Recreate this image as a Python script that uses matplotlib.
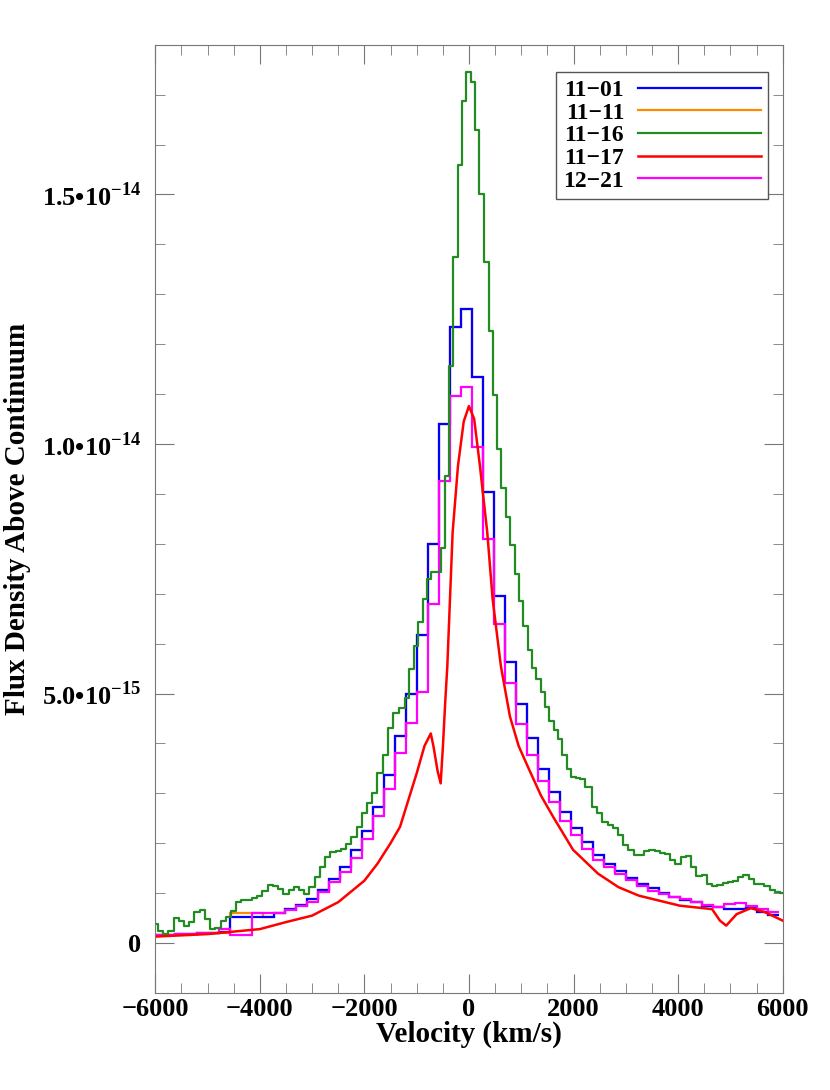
import numpy as np
import matplotlib
matplotlib.use("Agg")
import matplotlib.pyplot as plt
from matplotlib.ticker import MultipleLocator

plt.rcParams['font.family'] = 'Liberation Serif'
plt.rcParams['font.weight'] = 'bold'
plt.rcParams['mathtext.fontset'] = 'custom'
plt.rcParams['mathtext.rm'] = 'Liberation Serif:bold'
plt.rcParams['mathtext.bf'] = 'Liberation Serif:bold'

SCALE = 1e-15
# coarse bins (blue, orange, magenta): edges every 210 km/s
coarse_edges = np.arange(-6245, 6300, 210)[:59]
blue = [0.15,0.16,0.17,0.18,0.19,0.2,0.21,0.22,0.53,0.53,0.53,0.53,0.6,0.68,0.77,0.89,1.07,1.29,1.52,1.86,
        2.25,2.72,3.37,4.15,4.99,6.17,8.0,10.4,12.35,12.7,11.35,9.04,6.95,5.64,4.79,4.1,3.49,3.02,2.63,2.31,
        2.03,1.77,1.59,1.44,1.3,1.19,1.11,1.0,0.92,0.87,0.82,0.75,0.72,0.68,0.68,0.7,0.62,0.57]
orange = [0.15,0.16,0.17,0.18,0.19,0.2,0.21,0.2,0.6,0.6,0.6,0.53,0.6,0.68,0.77,0.89,1.07,1.29,1.52,1.86,
          2.25,2.72,3.37,4.15,4.99,6.17,8.0,10.4,12.35,12.7,11.35,9.04,6.95,5.64,4.79,4.1,3.49,3.02,2.63,2.31,
          2.03,1.77,1.59,1.44,1.3,1.19,1.11,1.0,0.92,0.87,0.82,0.75,0.72,0.68,0.68,0.7,0.62,0.57]
magenta = [0.15,0.16,0.17,0.18,0.19,0.2,0.21,0.28,0.16,0.16,0.6,0.6,0.6,0.66,0.75,0.83,1.02,1.22,1.42,1.7,
           2.08,2.54,3.09,3.8,4.41,5.03,6.8,9.26,10.96,11.14,9.94,8.1,6.4,5.21,4.38,3.77,3.25,2.82,2.45,2.17,
           1.89,1.66,1.52,1.38,1.26,1.15,1.05,0.99,0.93,0.89,0.82,0.77,0.73,0.79,0.8,0.75,0.68,0.62]

green_v = [-6000,-5900,-5800,-5700,-5600,-5500,-5400,-5300,-5200,-5100,-5000,-4900,-4800,-4700,-4600,-4500,
           -4400,-4300,-4200,-4100,-4000,-3900,-3800,-3700,-3600,-3500,-3400,-3300,-3200,-3100,-3000,-2900,
           -2800,-2700,-2600,-2500,-2400,-2300,-2200,-2100,-2000,-1900,-1800,-1700,-1600,-1500,-1400,
           -1270,-1180,-1095,-1010,-927,-848,-763,-670,-585,-500,-418,-337,-258,-170,-90,-10,70,150,250,335,415,
           500,577,666,746,832,918,998,1080,1165,1250,1330,1410,1495,1580,1665,1745,1830,1910,2000,2080,2160,
           2290,2400,2500,2600,
           2700,2800,2900,3000,3100,3200,3300,3400,3500,3600,3700,3800,3900,4000,4100,4200,4300,4400,4500,
           4600,4700,4800,4900,5000,5100,5200,5300,5400,5500,5600,5700,5800,5900,6000]
green = [0.38,0.25,0.18,0.25,0.5,0.45,0.35,0.42,0.62,0.66,0.48,0.28,0.3,0.45,0.52,0.65,
         0.82,0.87,0.87,0.9,0.95,1.05,1.17,1.15,1.09,0.99,1.07,1.12,1.07,0.99,1.12,1.32,
         1.52,1.72,1.83,1.85,1.89,1.99,2.13,2.33,2.6,2.8,3.01,3.4,3.77,4.31,4.6,
         4.72,4.91,5.49,5.95,6.43,6.9,7.29,7.44,7.44,7.92,9.35,11.57,13.75,15.58,16.87,17.45,17.26,16.3,15.0,13.65,12.27,
         10.98,9.9,9.12,8.53,7.97,7.39,6.85,6.35,5.88,5.52,5.29,5.03,4.73,4.44,4.26,4.09,3.76,3.49,3.33,3.3,3.28,
         3.12,2.72,2.6,2.43,
         2.36,2.3,2.16,1.96,1.87,1.76,1.76,1.85,1.87,1.85,1.8,1.78,1.66,1.58,1.72,1.74,1.52,1.34,1.36,
         1.19,1.15,1.17,1.2,1.22,1.25,1.32,1.36,1.29,1.19,1.18,1.15,1.07,1.02,1.0]

red_v = [-6000,-5000,-4000,-3500,-3000,-2500,-2000,-1750,-1500,-1318,-1000,-850,-730,-680,-600,-541,-500,
         -450,-414,-312,-210,-100,0,100,210,350,453,612,784,950,1128,1380,1610,1990,2470,2860,3250,3640,
         4030,4650,4800,4920,5120,5390,5660,6000]
red = [0.13,0.18,0.28,0.42,0.55,0.82,1.25,1.59,2.0,2.33,3.4,3.95,4.2,3.95,3.45,3.2,3.9,
       4.9,5.54,8.23,9.56,10.45,10.76,10.5,9.56,8.23,6.89,5.54,4.54,3.95,3.53,2.95,2.53,1.87,1.39,1.12,0.95,0.85,
       0.75,0.68,0.45,0.35,0.58,0.7,0.62,0.45]

labels = ['11\u221201', '11\u221211', '11\u221216', '11\u221217', '12\u221221']

fig = plt.figure(figsize=(8.3, 10.9), dpi=100)
ax = fig.add_axes([0.187, 0.089, 0.756, 0.870])

def stairs(vals, color, lab):
    v = np.asarray(vals) * SCALE
    ax.stairs(v, coarse_edges, color=color, lw=1.6, label=lab, baseline=None)

stairs(orange, '#ff8c00', labels[1])
stairs(blue, '#0000ff', labels[0])
ax.step(green_v, np.asarray(green) * SCALE, where='mid', color='#228b22', lw=1.6, label=labels[2])
ax.plot(red_v, np.asarray(red) * SCALE, color='#ff0000', lw=1.8, label=labels[3])
stairs(magenta, '#ff00ff', labels[4])

ax.set_xlim(-6000, 6000)
ax.set_ylim(-1.0e-15, 1.8e-14)
ax.set_xticks([-6000, -4000, -2000, 0, 2000, 4000, 6000])
ax.set_xticklabels(['\u22126000', '\u22124000', '\u22122000', '0', '2000', '4000', '6000'])
ax.xaxis.set_minor_locator(MultipleLocator(500))
ax.set_yticks([0, 5e-15, 1e-14, 1.5e-14])
ax.set_yticklabels(['0', '5.0\u202210$^{-15}$', '1.0\u202210$^{-14}$', '1.5\u202210$^{-14}$'])
ax.yaxis.set_minor_locator(MultipleLocator(1e-15))
ax.tick_params(which='both', direction='in', top=True, right=True, labelsize=19, color='#777777')
ax.tick_params(which='major', length=14)
ax.tick_params(which='minor', length=7)
ax.tick_params(axis='y', pad=10)
for s in ax.spines.values():
    s.set_color('#777777')
ax.set_xlabel('Velocity (km/s)', fontsize=21, fontweight='bold', labelpad=0)
ax.set_ylabel('Flux Density Above Continuum', fontsize=21, fontweight='bold', labelpad=8)

handles, labs = ax.get_legend_handles_labels()
order = [labs.index(l) for l in labels]
leg = ax.legend([handles[i] for i in order], [labs[i] for i in order], loc='upper right',
                bbox_to_anchor=(0.977, 0.971), markerfirst=False, fontsize=17, handlelength=5.2,
                fancybox=False, edgecolor='#555555', framealpha=1, labelspacing=0.05,
                borderpad=0.3, handletextpad=0.6, borderaxespad=0)
leg.get_frame().set_linewidth(1.0)

fig.savefig('out.png', dpi=100)
